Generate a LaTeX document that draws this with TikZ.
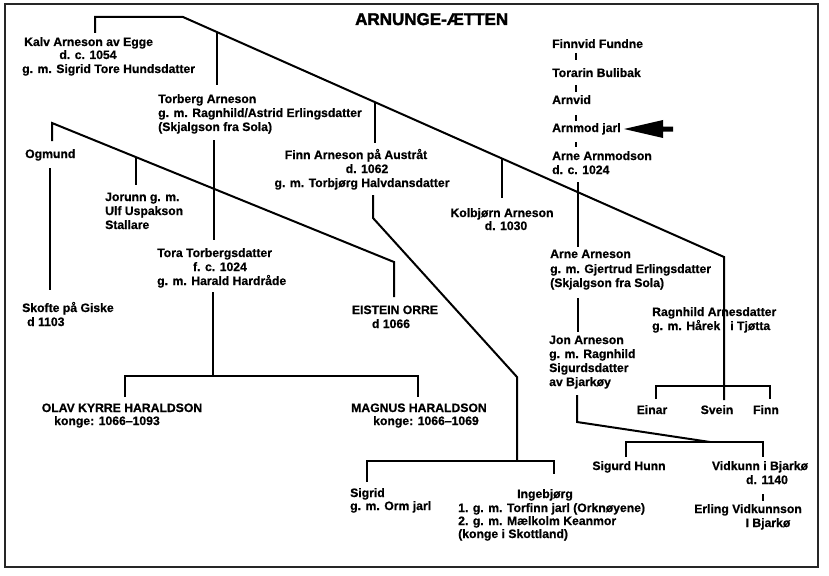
\documentclass[tikz,border=0pt]{standalone}
\usepackage{fontspec}
\setmainfont{Liberation Sans}[BoldFeatures={FakeBold=0.7}]
\newfontfamily\titlefont{Liberation Sans}[BoldFeatures={FakeBold=2}]
\tikzset{
  txt/.style={anchor=base west, inner sep=0pt, font=\bfseries\fontsize{12.2}{14}\selectfont},
  ctxt/.style={txt, anchor=base},
  ln/.style={line width=2pt, line cap=butt, line join=miter},
  tickln/.style={line width=2pt},
  frame/.style={line width=1.3pt, draw=black!85}
}
\begin{document}
\begin{tikzpicture}[x=1pt,y=-1pt]
\useasboundingbox (0,0) rectangle (829,575);
\fill[white] (0,0) rectangle (829,575);
\draw[frame] (5,4) rectangle (818,567);

% ---------- coordinates of connectors ----------
\coordinate (kA) at (95,33);   \coordinate (kB) at (95,17);
\coordinate (kC) at (183,17);  \coordinate (kD) at (724,257);
\coordinate (kE) at (724,400);
\coordinate (tb1) at (217,32.1); \coordinate (tb2) at (217,85);
\coordinate (fi1) at (375,102.2); \coordinate (fi2) at (375,143);
\coordinate (ko1) at (502,158.5); \coordinate (ko2) at (502,198);
\coordinate (aa1) at (578,182); \coordinate (aa2) at (578,247);
\coordinate (es1) at (656,399); \coordinate (es2) at (656,386);
\coordinate (es3) at (770,386); \coordinate (es4) at (770,399);
\coordinate (og1) at (52,141); \coordinate (og2) at (52,123);
\coordinate (og3) at (394,262); \coordinate (og4) at (394,297);
\coordinate (jo1) at (136,157.1); \coordinate (jo2) at (136,185);
\coordinate (sk1) at (50,168); \coordinate (sk2) at (50,290);
\coordinate (to1) at (214,140); \coordinate (to2) at (214,240);
\coordinate (kg1) at (213,292); \coordinate (kg2) at (213,376);
\coordinate (kg3) at (125,397); \coordinate (kg4) at (125,376);
\coordinate (kg5) at (418,376); \coordinate (kg6) at (418,397);
\coordinate (fd1) at (373,195); \coordinate (fd2) at (373,218);
\coordinate (fd3) at (517,377); \coordinate (fd4) at (517,461);
\coordinate (fd5) at (367,482); \coordinate (fd6) at (367,461);
\coordinate (fd7) at (554,461); \coordinate (fd8) at (554,474);
\coordinate (jn1) at (578,298); \coordinate (jn2) at (578,332);
\coordinate (js1) at (577,395); \coordinate (js2) at (577,422);
\coordinate (js3) at (710,442);
\coordinate (js4) at (626,457); \coordinate (js5) at (626,442);
\coordinate (js6) at (763,442); \coordinate (js7) at (763,457);
\coordinate (ev1) at (763,494); \coordinate (ev2) at (763,501);

% ---------- connectors ----------
\draw[ln] (kA) -- (kB) -- (kC) -- (kD) -- (kE);
\draw[ln] (tb1) -- (tb2);
\draw[ln] (fi1) -- (fi2);
\draw[ln] (ko1) -- (ko2);
\draw[ln] (aa1) -- (aa2);
\draw[ln] (es1) -- (es2) -- (es3) -- (es4);
\draw[ln] (og1) -- (og2) -- (og3) -- (og4);
\draw[ln] (jo1) -- (jo2);
\draw[ln] (sk1) -- (sk2);
\draw[ln] (to1) -- (to2);
\draw[ln] (kg1) -- (kg2);
\draw[ln] (kg3) -- (kg4) -- (kg5) -- (kg6);
\draw[ln] (fd1) -- (fd2) -- (fd3) -- (fd4);
\draw[ln] (fd5) -- (fd6) -- (fd7) -- (fd8);
\draw[ln] (jn1) -- (jn2);
\draw[ln] (js1) -- (js2) -- (js3);
\draw[ln] (js4) -- (js5) -- (js6) -- (js7);
\draw[tickln] (ev1) -- (ev2);
\foreach \a/\b [count=\i] in {53/60,85/92,115/121,142/147}{
  \coordinate (fv\i a) at (576,\a);
  \coordinate (fv\i b) at (576,\b);
  \draw[tickln] (fv\i a) -- (fv\i b);
}

% ---------- arrow ----------
\coordinate (arrtip) at (624,129);
\fill (arrtip) -- (663,120) -- (663,126.5) -- (673,126.5) -- (673,131.5)
      -- (663,131.5) -- (663,138) -- cycle;

% ---------- title ----------
\node[anchor=base west, inner sep=0pt, font=\titlefont\bfseries\fontsize{17}{20}\selectfont]
  (title) at (355,25) {ARNUNGE-ÆTTEN};

% ---------- people ----------
\node[txt]  (kalv)  at (24,46)  {Kalv Arneson av Egge};
\node[ctxt] (kalvd) at (88,59)  {d. c. 1054};
\node[txt]  (kalvg) at (22,73)  {g. m. Sigrid Tore Hundsdatter};

\node[txt] (torberg)  at (158,103) {Torberg Arneson};
\node[txt] (torbergg) at (158,117) {g. m. Ragnhild/Astrid Erlingsdatter};
\node[txt] (torbergs) at (158,131) {(Skjalgson fra Sola)};

\node[txt] (ogmund) at (25,158) {Ogmund};

\node[ctxt] (finn)  at (356,159) {Finn Arneson på Austråt};
\node[ctxt] (finnd) at (367,173) {d. 1062};
\node[ctxt] (finng) at (362,187) {g. m. Torbjørg Halvdansdatter};

\node[txt] (finnvid) at (552,48)  {Finnvid Fundne};
\node[txt] (torarin) at (552,77)  {Torarin Bulibak};
\node[txt] (arnvid)  at (552,104) {Arnvid};
\node[txt] (arnmod)  at (552,132) {Arnmod jarl};
\node[txt] (arnea)   at (552,160) {Arne Arnmodson};
\node[txt] (arnead)  at (552,174) {d. c. 1024};

\node[txt] (jorunn)  at (105,201) {Jorunn g. m.};
\node[txt] (jorunnu) at (105,215) {Ulf Uspakson};
\node[txt] (jorunns) at (105,229) {Stallare};

\node[ctxt] (kolbjorn)  at (502,217) {Kolbjørn Arneson};
\node[ctxt] (kolbjornd) at (506,230) {d. 1030};

\node[txt]  (tora)  at (157,257) {Tora Torbergsdatter};
\node[ctxt] (torad) at (220,271) {f. c. 1024};
\node[txt]  (torag) at (157,285) {g. m. Harald Hardråde};

\node[txt] (arne)  at (550,258) {Arne Arneson};
\node[txt] (arneg) at (550,273) {g. m. Gjertrud Erlingsdatter};
\node[txt] (arnes) at (550,287) {(Skjalgson fra Sola)};

\node[txt] (skofte)  at (22,312) {Skofte på Giske};
\node[txt] (skofted) at (27,326) {d 1103};

\node[ctxt] (eistein)  at (395,314) {EISTEIN ORRE};
\node[ctxt] (eisteind) at (391,328) {d 1066};

\node[txt] (ragnhild)  at (652,316) {Ragnhild Arnesdatter};
\node[txt] (ragnhildg) at (652,330) {g. m. Hårek\hspace{10pt}i Tjøtta};

\node[txt] (jon)  at (549,344) {Jon Arneson};
\node[txt] (jong) at (549,358) {g. m. Ragnhild};
\node[txt] (jons) at (549,372) {Sigurdsdatter};
\node[txt] (jonb) at (549,386) {av Bjarkøy};

\node[ctxt] (olav)   at (122,412) {OLAV KYRRE HARALDSON};
\node[ctxt] (olavk)  at (107,425) {konge: 1066--1093};
\node[ctxt] (magnus) at (419,412) {MAGNUS HARALDSON};
\node[ctxt] (magnusk) at (426,425) {konge: 1066--1069};

\node[ctxt] (einar) at (652,414) {Einar};
\node[ctxt] (svein) at (717,414) {Svein};
\node[ctxt] (finnb) at (766,414) {Finn};

\node[ctxt] (sigurd)   at (629,470) {Sigurd Hunn};
\node[ctxt] (vidkunn)  at (760,470) {Vidkunn i Bjarkø};
\node[ctxt] (vidkunnd) at (767,484) {d. 1140};
\node[ctxt] (erling)   at (748,513) {Erling Vidkunnson};
\node[ctxt] (erlingb)  at (768,527) {I Bjarkø};

\node[txt] (sigrid)  at (350,497) {Sigrid};
\node[txt] (sigridg) at (350,510) {g. m. Orm jarl};

\node[ctxt] (inge)  at (545,498) {Ingebjørg};
\node[txt]  (inge1) at (458,512) {1. g. m. Torfinn jarl (Orknøyene)};
\node[txt]  (inge2) at (458,525) {2. g. m. Mælkolm Keanmor};
\node[txt]  (inge3) at (458,538) {(konge i Skottland)};
\end{tikzpicture}
\end{document}
